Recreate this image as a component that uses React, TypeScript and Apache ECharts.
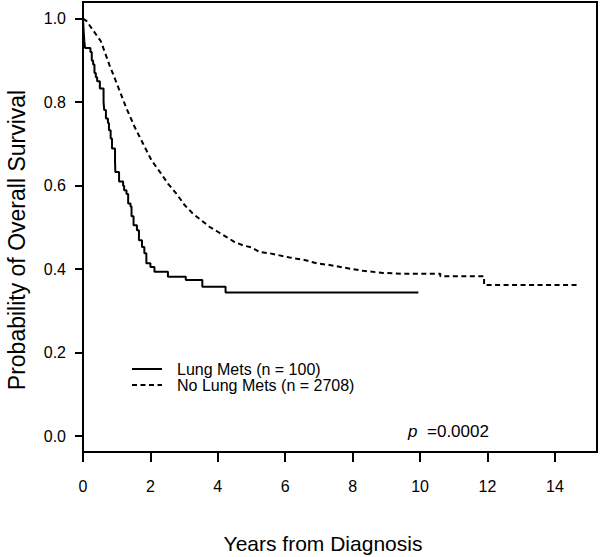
import React, { useEffect, useRef } from "react";
import * as echarts from "echarts";

// Kaplan–Meier: Lung Mets (n = 100) — time (years) at each step, survival after the step
const lungTimes = [0, 0.02, 0.04, 0.06, 0.22, 0.26, 0.30, 0.34, 0.38, 0.42, 0.50, 0.61, 0.63, 0.68, 0.74, 0.77, 0.82, 0.86, 0.95, 0.96, 1.07, 1.19, 1.22, 1.29, 1.34, 1.41, 1.44, 1.50, 1.60, 1.66, 1.75, 1.82, 1.88, 2.00, 2.12, 2.52, 3.05, 3.54, 4.23, 9.95];
const lungSurv = [1.0, 0.97, 0.945, 0.93, 0.92, 0.90, 0.89, 0.87, 0.86, 0.85, 0.833, 0.80, 0.781, 0.761, 0.75, 0.733, 0.713, 0.689, 0.66, 0.633, 0.61, 0.60, 0.589, 0.58, 0.557, 0.55, 0.527, 0.505, 0.493, 0.469, 0.453, 0.438, 0.414, 0.405, 0.394, 0.382, 0.374, 0.358, 0.344, 0.344];

// No Lung Mets (n = 2708)
const noTimes = [0, 0.1, 0.3, 0.53, 0.78, 1.04, 1.29, 1.53, 1.78, 2.03, 2.28, 2.52, 2.77, 3.02, 3.26, 3.51, 3.76, 4.01, 4.26, 4.50, 4.75, 5.0, 5.24, 5.54, 6.13, 6.58, 6.93, 7.32, 7.72, 8.31, 8.90, 9.5, 10.6, 10.6, 11.9, 11.9, 14.68];
const noSurv = [1.0, 0.995, 0.972, 0.946, 0.89, 0.837, 0.785, 0.741, 0.701, 0.661, 0.633, 0.605, 0.581, 0.553, 0.533, 0.517, 0.501, 0.489, 0.477, 0.465, 0.457, 0.452, 0.441, 0.438, 0.428, 0.422, 0.414, 0.410, 0.404, 0.396, 0.391, 0.389, 0.389, 0.383, 0.383, 0.362, 0.362];

const xTicks = [0, 2, 4, 6, 8, 10, 12, 14];
const yTicks = [0, 0.2, 0.4, 0.6, 0.8, 1.0];

const seriesNames = ["Lung Mets (n = 100)", "No Lung Mets (n = 2708)"];
const xTitle = "Years from Diagnosis";
const yTitle = "Probability of Overall Survival";
const pLabel = "p";
const pValue = "=0.0002";

const FONT = "'Liberation Sans', Arial, Helvetica, sans-serif";
const DASH = [5, 3.5];

export default function App() {
  const ref = useRef<HTMLDivElement>(null);
  useEffect(() => {
    if (!ref.current) return;
    const chart = echarts.init(ref.current, null, { renderer: "svg" });
    const lungData = lungTimes.map((t, i) => [t, lungSurv[i]]);
    const noData = noTimes.map((t, i) => [t, noSurv[i]]);
    const legendRows = [369, 385];
    const legendGraphics: any[] = [];
    seriesNames.forEach((name, i) => {
      legendGraphics.push({
        type: "line",
        shape: { x1: 132, y1: legendRows[i], x2: 162, y2: legendRows[i] },
        style: { stroke: "#000", lineWidth: 2, lineDash: i === 1 ? DASH : null },
      });
      legendGraphics.push({
        type: "text",
        x: 177,
        y: legendRows[i],
        style: {
          text: name,
          fontSize: 16,
          fontFamily: FONT,
          fill: "#000",
          textAlign: "left",
          textVerticalAlign: "middle",
        },
      });
    });
    chart.setOption({
      animation: false,
      backgroundColor: "#fff",
      textStyle: { fontFamily: FONT, color: "#000" },
      grid: {
        left: 83,
        right: 3,
        top: 2,
        bottom: 105,
        show: true,
        borderColor: "#000",
        borderWidth: 2,
        backgroundColor: "transparent",
      },
      xAxis: {
        type: "value",
        min: 0,
        max: 15.25,
        splitLine: { show: false },
        axisLine: { show: true, onZero: false, lineStyle: { color: "#000", width: 2 } },
        axisTick: {
          show: true,
          inside: false,
          length: 10,
          customValues: xTicks,
          lineStyle: { color: "#000", width: 2 },
        },
        axisLabel: {
          customValues: xTicks,
          fontSize: 16,
          color: "#000",
          fontFamily: FONT,
          margin: 26,
          formatter: (v: number) => String(v),
        },
      },
      yAxis: {
        type: "value",
        min: -0.038,
        max: 1.04,
        splitLine: { show: false },
        axisLine: { show: true, onZero: false, lineStyle: { color: "#000", width: 2 } },
        axisTick: {
          show: true,
          inside: false,
          length: 8,
          customValues: yTicks,
          lineStyle: { color: "#000", width: 2 },
        },
        axisLabel: {
          customValues: yTicks,
          fontSize: 16,
          color: "#000",
          fontFamily: FONT,
          margin: 17,
          formatter: (v: number) => v.toFixed(1),
        },
      },
      series: [
        {
          name: seriesNames[0],
          type: "line",
          step: "end",
          data: lungData,
          symbol: "none",
          lineStyle: { color: "#000", width: 2 },
          itemStyle: { color: "#000" },
        },
        {
          name: seriesNames[1],
          type: "line",
          data: noData,
          symbol: "none",
          lineStyle: { color: "#000", width: 2, type: DASH },
          itemStyle: { color: "#000" },
        },
      ],
      graphic: [
        ...legendGraphics,
        {
          type: "text",
          x: 17,
          y: 240,
          rotation: Math.PI / 2,
          style: {
            text: yTitle,
            fontSize: 23,
            fontFamily: FONT,
            fill: "#000",
            textAlign: "center",
            textVerticalAlign: "middle",
          },
        },
        {
          type: "text",
          x: 323,
          y: 543,
          style: {
            text: xTitle,
            fontSize: 21,
            fontFamily: FONT,
            fill: "#000",
            textAlign: "center",
            textVerticalAlign: "middle",
          },
        },
        {
          type: "text",
          x: 408,
          y: 431,
          style: {
            text: pLabel,
            fontSize: 17,
            fontStyle: "italic",
            fontFamily: FONT,
            fill: "#000",
            textAlign: "left",
            textVerticalAlign: "middle",
          },
        },
        {
          type: "text",
          x: 427,
          y: 431,
          style: {
            text: pValue,
            fontSize: 17,
            fontFamily: FONT,
            fill: "#000",
            textAlign: "left",
            textVerticalAlign: "middle",
          },
        },
      ],
    });
    return () => chart.dispose();
  }, []);
  return (
    <div
      ref={ref}
      style={{ position: "fixed", left: 0, top: 0, width: 600, height: 557, background: "#fff" }}
    />
  );
}
